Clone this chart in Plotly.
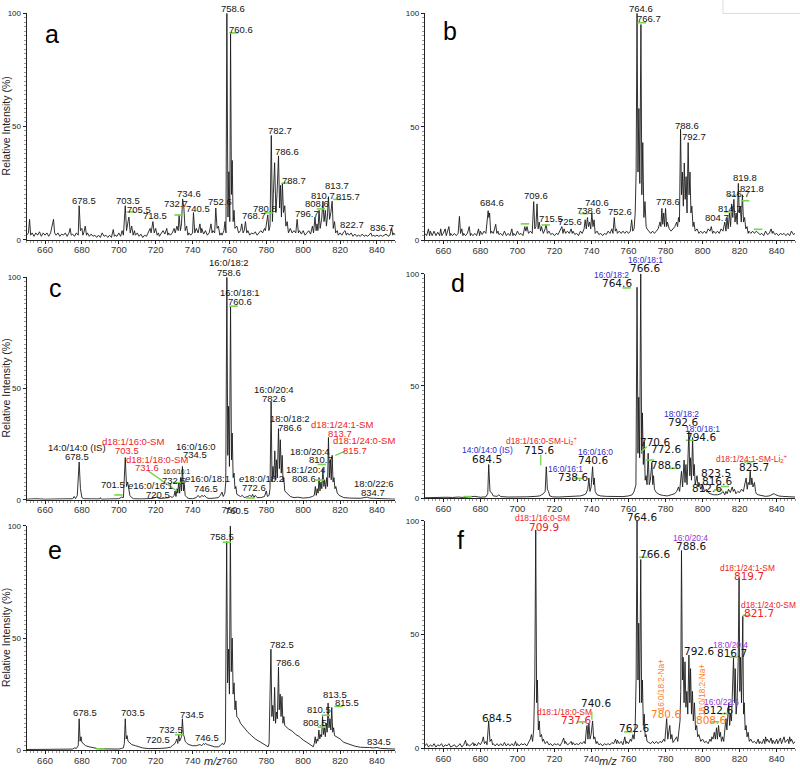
import plotly.graph_objects as go

# ---------------- spectra: (m/z, relative intensity %) profile vertices ----------------
a_spec = [(650,2),(651,3),(651.6,9),(652.2,2),(653,3),(654,1.5),(655,3),(656,2),(657,3.5),(658,1.5),(659,3),(660,2),(661,3),(662,1.5),(663,3),(664,6),(664.6,9),(665.2,3),(666,2),(667,3),(668,1.5),(669,2.5),(670,2),(671,3),(672,1.5),(673,3),(673.6,5),(674.2,2),(675,2.5),(676,1.5),(677,3),(678,2),(678.5,15),(679.2,4),(680,5),(680.5,2),(681,3),(681.8,6),(682.5,2),(683,3),(684,1.5),(685,2.5),(686,1.5),(687,2),(688,1),(689,2),(690,1),(691,3),(692,1.5),(693,2),(694,1),(695,2),(696,1),(697,4.5),(697.6,1.5),(698,2),(699,1.5),(700,3),(701,1.5),(701.8,4),(702.5,2),(703.5,15),(704.2,4),(705,8),(705.5,10),(706.2,3),(707,6),(707.8,2),(708.5,4),(709,2),(710,3),(711,1.5),(712,2.5),(713,1),(714,2),(715,1.5),(716,3),(717,5),(717.5,3),(718.5,8),(719.2,3),(720,5),(720.8,2),(721.5,3),(722,1.5),(723,3),(724,4),(725,2.5),(726,5),(726.6,2),(727,3),(728,2),(729,3),(730,5),(730.6,3),(731.5,6),(732.2,4),(732.7,11),(733.4,4),(734,7),(734.6,18),(735.3,14),(736,4),(736.8,6),(737.5,2),(738,3),(739,2),(740,3),(740.5,12),(741.2,3),(742,5),(743,3),(744,7),(744.6,3),(745,5),(746,2.5),(747,4),(748,2),(749,3),(750,7),(750.6,3),(751,4),(752,3),(752.6,14),(753.3,5),(754,6),(754.8,2),(755.5,3),(756,2),(757,4),(757.6,8),(758.1,3),(758.6,100),(759.2,10),(759.7,30),(760.2,8),(760.6,91),(761.1,20),(761.5,35),(762,8),(762.5,13),(763,5),(764,6),(765,3),(766,4),(766.7,7),(767.4,3),(768,4),(768.7,8),(769.4,3),(770,4),(771,2),(772,3),(773,2.5),(774,3.5),(775,2),(776,3),(777,4),(778,3),(779,5),(779.5,4),(780.3,8),(780.8,11),(781.4,4),(782,6),(782.7,46),(783.3,8),(783.8,20),(784.5,34),(785.2,12),(785.8,20),(786.6,37),(787.2,14),(787.7,24),(788.2,10),(788.7,25),(789.3,12),(790,15),(790.6,6),(791.3,8),(792,3),(793,5),(794,3),(795,4),(796,3),(796.7,9),(797.4,3),(798,4),(799,2.5),(800,4),(801,2),(802,3),(803,4),(804,2.5),(805,6),(805.6,3),(806.4,10),(807,4),(807.5,7),(808,4),(808.6,13),(809.2,5),(810,9),(810.7,17),(811.3,8),(812,13),(812.6,6),(813.1,10),(813.7,19),(814.3,9),(815,12),(815.7,17),(816.3,5),(817,8),(817.6,3),(818.5,4),(819,2),(820,3),(821,2),(822,3.5),(822.7,4),(823.4,2),(824,3),(825,2),(826,3),(827,1.5),(828,2.5),(829,1.5),(830,2),(831,1.5),(832,2.5),(833,1.5),(834,2),(835,1.5),(836,2.5),(836.7,3),(837.4,1.5),(838,2),(839,1.5),(840,2),(841,1.5),(842,2),(843,1.5),(844,2),(845,2.5),(846,1.5),(847,2),(848,5),(848.6,2),(849,3),(850,2)]

b_spec = [(650,3),(651,2),(652,5),(652.6,2),(653,4),(654,2),(655,4),(656,2),(657,3.5),(658,2),(658.6,5),(659.2,2),(660,3),(661,5),(661.6,2),(662,3),(663,6),(663.6,2),(664,3),(665,2),(666,3),(667,2),(668,3),(668.7,10.5),(669.3,3),(670,5),(670.6,2),(671,3),(672,2),(673,3),(674,6),(674.6,2),(675,3),(676,2),(677,3),(678,2),(679,5),(679.6,2),(680,4),(681,2.5),(682,4),(683,3),(684.2,13),(684.6,10),(685,12),(685.6,3),(686,4),(687,3),(688.3,7),(688.9,3),(689.5,4),(690,2.5),(691,3),(692,2),(693,4),(694,2),(695,3),(696,2),(697,5),(697.6,2),(698,3),(699,2),(700,4),(701,2.5),(702,3),(703,2),(704,6),(704.6,4),(705.2,6),(706,3),(707,4),(708,3),(708.8,17),(709.4,5),(710,6),(710.6,16),(711.2,5),(711.8,8),(712.5,4),(713,6),(714,3),(715,5),(715.5,7),(716.2,3),(717,4),(718,2.5),(719,3),(720,2),(721,3),(722,2.5),(723,4),(724,6),(724.6,3),(725.2,5),(726,3),(727,4),(728,3),(729,5),(729.6,3),(730,4),(731,2.5),(732,3),(733,2),(734,4),(735,3),(736,5),(736.6,9),(737.2,5),(737.8,10),(738.4,6),(739,8),(739.6,5),(740.2,12),(740.8,6),(741.4,9),(742,3),(743,4),(744,2.5),(745,3),(746,2),(747,3),(748,2.5),(749,4),(750,3),(751,5),(751.6,3),(752.3,10),(752.9,4),(753.5,5),(754,3),(755,4),(756,3),(757,4),(758,3),(759,4),(760,3),(761,4),(761.7,9),(762.3,4),(763,5),(763.6,12),(764.1,30),(764.6,100),(765.1,30),(765.6,58),(766.1,25),(766.7,95),(767.2,20),(767.7,43),(768.3,10),(768.9,17),(769.5,6),(770,5),(771,4),(772,3),(773,4),(774,3),(775,4),(776,5),(777,8),(777.5,6),(778,14),(778.5,7),(779,12),(779.5,6),(780,14),(780.6,6),(781,8),(782,5),(783,4),(784,5),(785,6),(786,8),(786.5,6),(787,10),(787.5,8),(788.1,49),(788.6,20),(789.1,30),(789.6,15),(790.1,34),(790.6,18),(791.1,28),(791.6,12),(792.2,43),(792.7,20),(793.2,30),(793.7,12),(794.2,15),(794.8,6),(795.3,8),(796,4),(797,5),(798,3),(799,4),(800,3),(801,4),(802,3),(803,5),(804,4),(804.7,6),(805.4,3),(806,4),(807,3),(808,4),(809,3),(810,5),(811,4),(812,8),(812.6,4),(813.2,10),(813.8,5),(814.5,12),(815.1,6),(815.7,16),(816.3,10),(816.9,18),(817.5,8),(818.1,12),(818.7,7),(819.3,25),(819.8,12),(820.3,15),(820.9,8),(821.5,20),(822.1,8),(822.7,10),(823.3,5),(824,6),(824.6,3),(825,4),(826,3),(827,4),(828,3),(829,4),(830,3),(831,2.5),(832,3),(833,2),(834,4),(835,2.5),(836,3),(837,5),(837.6,3),(838,4),(839,2.5),(840,3),(841,2),(842,3),(843,2.5),(844,3),(845,2),(846,3),(847,2),(848,4),(849,2.5),(850,3)]

c_spec = [(650,0.3),(655,0.5),(660,0.3),(665,0.4),(670,0.3),(675,0.5),(675.8,1.5),(676.5,0.5),(677.5,2),(678.5,17),(679.2,5),(680,1),(681,0.5),(685,0.3),(689.5,0.4),(690,1),(690.5,0.3),(695,0.4),(700,0.5),(701.5,1.2),(702.5,1),(703.5,19),(704.2,6),(704.8,8),(705.5,3),(706,2),(707,1),(708,0.5),(712,0.4),(715,0.5),(718,0.6),(720.5,1.2),(722,0.6),(725,0.8),(727,1),(728,1.5),(729,1),(730,2),(730.5,4),(731,1.5),(731.6,5),(732,3),(732.5,8),(733,3),(733.5,10),(734,4),(734.5,15),(735.1,4),(735.5,7),(736,2),(737,1),(738,0.6),(740,0.5),(742,1),(743,2),(744,1),(745,2),(746,1.5),(746.5,2),(747.5,1),(749,0.6),(752,0.8),(754,1),(755,2),(756,3.5),(756.6,1.5),(757.5,3),(758,8),(758.6,100),(759.1,20),(759.5,42),(760,15),(760.6,87),(761.1,18),(761.5,30),(762,10),(762.5,12),(763,5),(763.5,6),(764,2.5),(765,2),(766,1.5),(767,2),(768,1),(770,1.5),(771,2),(772,1.5),(772.6,2.5),(773.2,1),(774,2),(775,1),(777,1),(779,1.5),(780,4),(780.6,1.5),(781.5,2),(782,5),(782.6,44),(783.1,8),(783.6,15),(784.1,10),(784.6,22),(785.1,9),(785.5,18),(786,10),(786.6,32),(787.1,14),(787.6,27),(788.1,12),(788.6,20),(789.1,8),(789.5,10),(790,4),(791,3),(792,2),(793,1.5),(795,1),(797,1.2),(800,0.8),(803,1),(805,1.5),(806,2),(806.6,6),(807.1,2),(807.6,5),(808.1,3),(808.6,10),(809.1,4),(809.6,8),(810.1,5),(810.7,14),(811.2,6),(811.6,9),(812.2,5),(812.7,10),(813.2,6),(813.7,28),(814.2,10),(814.7,18),(815.2,9),(815.7,20),(816.2,8),(816.7,10),(817.2,5),(817.7,6),(818.5,3),(819.5,2),(820.5,1.5),(822,1),(825,0.8),(828,0.8),(831,0.7),(834.7,1.2),(836,0.8),(838,0.7),(840,0.6),(843,0.5),(846,0.4),(850,0.3)]

d_spec = [(650,0.2),(655,0.4),(658,0.2),(662,0.4),(665,0.3),(668,0.5),(671,0.3),(674,0.5),(677,0.8),(680,0.4),(683,0.6),(684,2),(684.5,15),(685.2,3),(686,2.5),(687,1),(689,0.8),(690,1.5),(691,0.7),(695,0.5),(700,0.4),(705,0.6),(710,0.8),(712,1),(713,1.5),(714,2),(715,3),(715.6,14),(716.2,4),(716.8,3),(717.5,1),(719,0.6),(722,0.5),(725,0.7),(728,0.6),(731,0.8),(734,1),(736,1.5),(737,2),(738,4),(738.6,9),(739.2,3),(739.8,5),(740.6,14),(741.1,6),(741.5,9),(742,3),(743,1.5),(745,1),(748,0.8),(751,0.7),(754,0.8),(757,0.7),(760,1),(762,1.5),(763,3),(764,6),(764.6,94),(765.1,20),(765.5,45),(766,18),(766.6,100),(767.1,20),(767.5,38),(768,15),(768.5,25),(769,8),(769.5,10),(770,6),(770.6,20),(771.2,6),(771.8,8),(772.6,16),(773.1,6),(773.5,10),(774,4),(775,2.5),(776,2),(777,1.5),(779,1.2),(781,1),(783,1.5),(785,2),(786,3),(787,5),(787.6,3),(788.6,12),(789.2,5),(790,17),(790.5,7),(791,15),(791.6,6),(792.6,30),(793.1,10),(793.5,18),(794,8),(794.6,27),(795.1,10),(795.5,15),(796,6),(796.6,8),(797,10),(797.6,5),(798,7),(799,4),(800,6),(801,3),(802,4),(803,2.5),(804,2),(806,1.5),(808,1.5),(810,2),(811,3),(812,1.5),(812.6,3),(813.3,2),(814,4),(815,2.5),(816,5),(816.6,3),(817.2,4),(818,2),(819,3),(820,2.5),(821,4),(822,3),(823.5,9),(824.1,4),(824.6,7),(825.2,6),(825.7,12),(826.2,6),(826.6,9),(827.2,5),(828,7),(828.6,3),(829,2),(830,1.5),(832,1),(834,0.8),(836,1),(837.5,1.5),(838.5,2),(839.5,1.5),(841,1),(843,0.8),(846,0.6),(850,0.5)]

e_spec = [(650,0.3),(655,0.3),(660,0.3),(665,0.3),(670,0.4),(675,0.5),(676,1),(677,0.8),(678,2),(678.5,14),(679,4),(679.5,6),(680,3.5),(681,2.5),(682,2),(684,1.5),(686,1),(688,0.8),(690,0.6),(693,0.5),(697,0.4),(700,0.5),(701.5,0.8),(702.5,1),(703,3),(703.5,14),(704,5),(704.5,6.5),(705,4),(706,3),(707,2.5),(709,2),(711,1.5),(713,1),(716,0.7),(720.5,0.6),(723,0.8),(726,1),(728,1.3),(729,2),(730,2.5),(730.5,3),(731,4),(731.5,5),(732,3),(732.5,7),(733,4),(733.5,5),(734,6),(734.5,14),(735,7),(735.5,6),(736,4),(737,3),(738,2.5),(740,2),(742,2),(744,2.5),(745,2),(746,3),(746.5,2.5),(747,3),(748,2.5),(750,2),(752,1.5),(754,1.5),(755,2),(756,3),(757,2.5),(757.8,4),(758.5,93),(759,30),(759.5,45),(760,25),(760.5,100),(761,35),(761.5,50),(762,25),(762.5,30),(763,18),(763.5,22),(764,15),(765,14),(766,12),(767,11),(768,9.5),(769,8.5),(770,8),(772,6.5),(774,5),(776,4),(778,3),(780,2),(781,1.5),(781.5,3),(782.5,45),(783,15),(783.5,20),(784,13),(784.5,28),(785,12),(785.5,17),(786,14),(786.6,37),(787,18),(787.5,25),(788,15),(788.5,24),(789,12),(789.5,15),(790,11),(791,10),(792,9.5),(794,8.5),(796,7),(798,6),(800,4.5),(802,3.5),(804,2.5),(805.5,1.5),(806,3),(806.5,6),(807,3),(807.5,5),(808,4),(808.5,9),(809,5),(809.5,7),(810,6),(810.5,15),(811,7),(811.5,10),(812,6),(812.5,12),(813,8),(813.5,21),(814,10),(814.5,14),(815,9),(815.5,19),(816,8),(816.5,10),(817,6.5),(818,6),(820,5),(822,3.5),(825,2.5),(828,1.8),(831,1.3),(834,1.2),(834.5,1.5),(836,1.2),(838,1),(840,1.2),(842,0.8),(845,0.6),(850,0.5)]

f_spec = [(650,1),(651,2),(652,0.5),(653,1.5),(654,0.8),(655,2),(656,0.5),(657,1.5),(658,1),(659,2),(660,0.5),(661,1.5),(662,1),(663,2),(664,0.5),(665,1),(666,1.5),(667,0.5),(668,1),(669,2),(670,0.5),(671,1.5),(672,3.5),(672.6,1),(673,2),(674,1),(675,1.5),(676,2.5),(676.6,1),(677,2),(678,1),(679,2.5),(680,1.5),(681,3),(681.6,5),(682.2,2),(683,3),(683.6,1.5),(684.5,12),(685.2,3),(686,4),(686.6,1.5),(687,2),(688,1),(689,2),(690,1),(691,2),(692,1),(693,2.5),(694,1),(695,2),(696,1),(697,2),(698,1),(699,3),(699.6,1),(700,2),(701,1),(702,2),(703,1.5),(704,2),(705,1),(706,2.5),(707,4),(707.6,6),(708.2,3),(708.8,8),(709.4,30),(709.9,96),(710.4,20),(710.8,30),(711.3,8),(711.8,12),(712.3,5),(713,6),(713.6,3),(714,4),(715,2),(716,3),(717,1.5),(718,2),(719,1),(720,2),(721,1.5),(722,2),(723,1),(724,2.5),(725,4.5),(725.6,2),(726,3),(727,1.5),(728,2),(729,3),(729.6,1.5),(730,2.5),(731,1.5),(732,2),(733,1.5),(734,2.5),(735,2),(736,3),(736.6,2),(737.2,8),(737.6,10),(738.1,4),(738.6,11),(739.2,4),(739.8,6),(740.6,12),(741.2,4),(741.8,5),(742.5,2),(743,3),(744,1.5),(745,2),(746,1),(747,2),(748,1.5),(749,2),(750,1.5),(751,2.5),(752,2),(753,4),(753.6,2),(754,3.5),(755,2),(756,3),(757,1.5),(758,5),(758.6,2),(759,3),(760,2),(761,4),(761.6,3),(762.4,6),(763,4),(763.6,10),(764.1,30),(764.6,100),(765.1,30),(765.5,55),(766,20),(766.6,83),(767.1,20),(767.5,30),(768,10),(768.5,15),(769,5),(769.5,6),(770,3),(771,2.5),(772,2),(773,3),(774,2),(775,3),(776,2),(777,3),(778,2.5),(779,4),(779.6,3),(780.3,10),(780.6,13),(781.2,4),(781.8,8),(782.3,10),(782.8,4),(783.4,6),(784,2.5),(785,4),(786,5),(786.6,3),(787.2,8),(787.8,12),(788.2,25),(788.6,87),(789.1,30),(789.5,40),(790,20),(790.5,38),(791,18),(791.5,25),(792,15),(792.6,41),(793.1,20),(793.5,35),(794,15),(794.5,25),(795,12),(795.6,20),(796.2,8),(796.8,10),(797.4,5),(798,6),(799,3),(800,4),(801,2.5),(802,3),(803,2),(804,4),(804.6,3),(805,5),(805.6,4),(806.3,7),(806.9,4),(807.5,9),(808,4),(808.6,10),(809.2,5),(809.6,7),(810.2,3),(810.8,5),(811.4,3),(812,7),(812.6,13),(813.1,8),(813.6,15),(814.1,20),(814.6,10),(815.1,15),(815.6,12),(816.2,25),(816.7,40),(817.2,20),(817.6,35),(818.1,15),(818.6,20),(819.2,38),(819.7,75),(820.1,25),(820.5,40),(821,20),(821.7,58),(822.1,15),(822.5,20),(823,8),(823.5,10),(824,5),(824.6,7),(825.2,3),(826,4),(827,2.5),(828,3),(829,2),(830,4),(830.6,2),(831,3),(832,2),(833,4),(833.6,2),(834,5),(834.6,3),(835,4),(836,2.5),(837,4.5),(837.6,2),(838,3.5),(839,2),(840,4),(840.6,2),(841,3),(842,4.5),(842.6,2),(843,3),(844,5),(844.6,2.5),(845,3),(846,4),(846.6,2),(847,5),(847.6,3),(848,4),(849,2),(850,3)]

# ---------------- peak annotations: (m/z, y%, text, colour key, size key) ----------------
a_labels = [(762,102,"758.6","k","v"),(766.5,92.8,"760.6","k","v"),(787.5,48.3,"782.7","k","v"),(791.1,38.8,"786.6","k","v"),(795,26.2,"788.7","k","v"),(818.3,23.8,"813.7","k","v"),(810.9,19.7,"810.7","k","v"),(824.3,19,"815.7","k","v"),(807.4,15.9,"808.6","k","v"),(802,11.7,"796.7","k","v"),(779.4,13.9,"780.8","k","v"),(773.1,10.6,"768.7","k","v"),(755,16.7,"752.6","k","v"),(743,13.9,"740.5","k","v"),(738.3,20.4,"734.6","k","v"),(730.9,16.2,"732.7","k","v"),(719.7,10.6,"718.5","k","v"),(710.7,13.5,"705.5","k","v"),(705,17.5,"703.5","k","v"),(681,17.4,"678.5","k","v"),(826.4,6.5,"822.7","k","v"),(842.7,5.5,"836.7","k","v")]

b_labels = [(766.6,102,"764.6","k","v"),(771,97.5,"766.7","k","v"),(791.4,50.4,"788.6","k","v"),(795.4,45.7,"792.7","k","v"),(822.9,27.5,"819.8","k","v"),(826.5,22.9,"821.8","k","v"),(818.9,20.7,"816.7","k","v"),(814.8,13.9,"814.7","k","v"),(807.6,9.9,"804.7","k","v"),(781.5,17.1,"778.6","k","v"),(755.4,12.5,"752.6","k","v"),(742.8,16.7,"740.6","k","v"),(738.5,13,"738.6","k","v"),(728.4,8.4,"725.6","k","v"),(718.1,9.6,"715.5","k","v"),(709.9,19.7,"709.6","k","v"),(686.5,16.4,"684.6","k","v")]

c_labels = [(759.5,106.4,"16:0/18:2","k","v"),(759.5,102.2,"758.6","k","v"),(765.8,93.3,"16:0/18:1","k","v"),(765.8,89,"760.6","k","v"),(783.9,49.6,"16:0/20:4","k","v"),(783.9,45.4,"782.6","k","v"),(792.6,36.5,"18:0/18:2","k","v"),(792.6,32.4,"786.6","k","v"),(821.2,33.9,"d18:1/24:1-SM","r","v"),(819.7,29.8,"813.7","r","v"),(833.1,26.5,"d18:1/24:0-SM","r","v"),(828.2,22.3,"815.7","r","v"),(803.5,21.6,"18:0/20:4","k","v"),(809.6,18.2,"810.7","k","v"),(801.5,13.8,"18:1/20:4","k","v"),(800.6,9.7,"808.6","k","v"),(838.2,7.4,"18:0/22:6","k","v"),(837.8,3.3,"834.7","k","v"),(677.5,23.5,"14:0/14:0 (IS)","k","v"),(677.5,19.3,"678.5","k","v"),(707.9,26,"d18:1/16:0-SM","r","v"),(704.3,22.3,"703.5","r","v"),(720.6,18.3,"d18:1/18:0-SM","r","v"),(715.2,14.4,"731.6","r","v"),(741.9,24.1,"16:0/16:0","k","v"),(741.4,20.4,"734.5","k","v"),(731.5,12.9,"16:0/16:1","k","t"),(730,8.6,"732.5","k","v"),(748.1,9.7,"<i>e</i>16:0/18:1","k","v"),(747.2,5.2,"746.5","k","v"),(717,6.4,"<i>e</i>16:0/16:1","k","v"),(721.5,2.5,"720.5","k","v"),(696.7,6.7,"701.5","k","v"),(777.6,9.7,"<i>e</i>18:0/18:2","k","v"),(773.4,5.5,"772.6","k","v")]

d_labels = [(769.4,105.9,"16:0/18:1","b","n"),(768.9,102.6,"766.6","k","w"),(750.7,99.6,"16:0/18:2","b","n"),(753.6,96,"764.6","k","w"),(788.7,37.6,"18:0/18:2","b","n"),(789.6,33.8,"792.6","k","w"),(800,30.7,"18:0/18:1","b","n"),(799.1,27.2,"794.6","k","w"),(774.1,25.1,"770.6","k","w"),(780.2,21.8,"772.6","k","w"),(780.2,14.7,"788.6","k","w"),(826.6,17.9,"d18:1/24:1-SM-Li<sub>2</sub><sup>+</sup>","r","n"),(827.7,14,"825.7","k","w"),(807.2,11.1,"823.5","k","w"),(807.6,7.8,"816.6","k","w"),(802.5,4.7,"812.6","k","w"),(683.8,21.4,"14:0/14:0 (IS)","b","n"),(683.4,17.4,"684.5","k","w"),(713.5,25.6,"d18:1/16:0-SM-Li<sub>2</sub><sup>+</sup>","r","n"),(711.8,21.4,"715.6","k","w"),(742.3,20.4,"16:0/16:0","b","n"),(740.6,17,"740.6","k","w"),(725.7,13,"16:0/16:1","b","n"),(730.2,9.6,"738.6","k","w")]

e_labels = [(764.2,106.7,"760.5","k","v"),(755.9,95.3,"758.5","k","v"),(788.4,46.9,"782.5","k","v"),(792,38.9,"786.6","k","v"),(817.4,24.9,"813.5","k","v"),(823.7,21.3,"815.5","k","v"),(808.5,18.3,"810.5","k","v"),(806.5,12.5,"808.5","k","v"),(840.9,3.7,"834.5","k","v"),(747.7,5.6,"746.5","k","v"),(739.8,16.1,"734.5","k","v"),(728.2,9.2,"732.5","k","v"),(721.5,4.8,"720.5","k","v"),(707.6,16.7,"703.5","k","v"),(681.9,16.7,"678.5","k","v")]

f_labels = [(713.3,101.4,"d18:1/16:0-SM","r","n"),(714.2,97.5,"709.9","r","w"),(767.1,101.9,"764.6","k","w"),(774.5,85.5,"766.6","k","w"),(793.2,92.3,"16:0/20:4","p","n"),(793.5,89.1,"788.6","k","w"),(824.1,79.3,"d18:1/24:1-SM","r","n"),(825,75.8,"819.7","r","w"),(835.6,63,"d18:1/24:0-SM","r","n"),(830.4,59.4,"821.7","r","w"),(798,42.8,"792.6","k","w"),(814.8,45.4,"18:0/20:4","p","n"),(815.7,42,"816.7","k","w"),(810.3,20.3,"16:0/22:6","p","n"),(808.5,16.7,"812.6","k","w"),(804.3,12.6,"808.6","o","w"),(780,15.2,"780.6","o","w"),(742.4,19.9,"740.6","k","w"),(725.5,15.9,"d18:1/18:0-SM","r","n"),(731.6,12.3,"737.6","r","w"),(763.1,8.7,"762.6","k","w"),(689,13.5,"684.5","k","w")]
f_vlabels = [(777.9,27.5,"16:0/18:2-Na+"),(800,25.4,"18:0/18:2-Na+")]

# small green label markers (m/z, y%)
a_marks = [(762.2,91.3),(706.5,12.3),(732.4,10.9),(781.2,11.9),(790.6,25),(809.6,13.6),(818.6,17.8)]
b_marks = [(767.1,95.8),(715.3,6.7),(736.1,11.7),(816,19.7),(813.9,12.5),(822.9,17.4),(830,4.8),(704.1,7.2)]
c_marks = [(762.2,87),(699.8,2.2),(731.5,7.7),(810.1,15.9),(809.2,8.9),(771.5,0.8)]
d_marks = [(759,93.7),(732.9,8.8),(771.6,17),(784.2,13.3),(793.2,25.8),(824.7,16.2),(812.1,5.2),(808.5,3.7),(673,0.7)]
e_marks = [(758.6,92.7),(732.7,6.9),(810.1,10.3),(819.2,19.5),(690,0.6),(812.3,15.6)]
f_marks = [(768,84),(734.7,11.6),(759.9,7.2),(806.7,11.6),(811.2,15.2),(816.6,40.1),(823.8,58.4)]

# green connector lines: (panel index, m/z0, y0, m/z1, y1)
connectors = [(3,731.5,4,716.1,12.9),(3,817.4,20,822.8,21.9),(4,712.6,14.7,712.6,19.2),(4,766.5,20.5,770,23),(6,740.2,12.5,740.2,16)]

SANS = "Liberation Sans, Arial, sans-serif"
COLORS = {"k": "#141414", "r": "#f02222", "b": "#2a2ad2", "p": "#9a32d6", "o": "#ff7d1a"}
FONTS = {"v": (SANS, 9.5), "t": (SANS, 6.5), "n": (SANS, 8.4), "w": ("DejaVu Sans", 10.5)}

W, H = 800, 771
# panel pixel boxes: x0, x1 (m/z 650..850), y_top (100%), y_bottom (0%)
panels = [
    ("a", a_spec, a_labels, a_marks, (26.6, 395.4), (9.3, 238.5), (663.8, 91), True),
    ("b", b_spec, b_labels, b_marks, (424.8, 795.2), (9.3, 239), (663.6, 92), False),
    ("c", c_spec, c_labels, c_marks, (26.6, 395.4), (276.5, 501.7), (665.4, 95.4), True),
    ("d", d_spec, d_labels, d_marks, (424.8, 795.2), (273, 500), (667.9, 96), False),
    ("e", e_spec, e_labels, e_marks, (26.6, 395.4), (528, 755), (665.4, 89.4), True),
    ("f", f_spec, f_labels, f_marks, (424.8, 795.2), (523, 753), (669.5, 91.7), False),
]

fig = go.Figure()
annotations = []
shapes = []
layout = {}
for i, (name, spec, labels, marks, xpx, ypx, letter_pos, ytitle) in enumerate(panels, start=1):
    sfx = "" if i == 1 else str(i)
    xr, yr = "x" + sfx, "y" + sfx
    pxpp = (ypx[1] - ypx[0]) / 100.0
    mz = [p[0] for p in spec]
    inten = [p[1] for p in spec]
    fig.add_trace(go.Scatter(x=mz, y=inten, mode="lines", xaxis=xr, yaxis=yr,
                             line=dict(color="#1c1c1c", width=0.9), hoverinfo="skip", showlegend=False))
    fig.add_trace(go.Scatter(x=[m[0] for m in marks], y=[m[1] for m in marks], mode="markers",
                             xaxis=xr, yaxis=yr, cliponaxis=False,
                             marker=dict(symbol="line-ew", size=6, line=dict(color="#74d64a", width=1.6)),
                             hoverinfo="skip", showlegend=False))
    layout["xaxis" + sfx] = dict(domain=[xpx[0] / W, xpx[1] / W], range=[650, 850], anchor=yr,
                                 showline=True, linecolor="#222", linewidth=1, ticks="outside", ticklen=3,
                                 tickcolor="#222", tick0=660, dtick=20, showgrid=False, zeroline=False,
                                 ticklabelstandoff=-2,
                                 tickfont=dict(family=SANS, size=9.5, color="#333"),
                                 minor=dict(ticks="outside", ticklen=2, dtick=2, tickcolor="#555", tickwidth=0.6))
    layout["yaxis" + sfx] = dict(domain=[1 - ypx[1] / H, 1 - ypx[0] / H], range=[0, 100], anchor=xr,
                                 showline=True, linecolor="#222", linewidth=1, ticks="outside", ticklen=3,
                                 tickcolor="#222", tick0=0, dtick=50, showgrid=False, zeroline=False,
                                 tickfont=dict(family=SANS, size=8, color="#222"),
                                 minor=dict(ticks="outside", ticklen=2, dtick=2, tickcolor="#555", tickwidth=0.6))
    for (x, y, t, ck, fk) in labels:
        fam, size = FONTS[fk]
        ya = min(y, 99.9)
        annotations.append(dict(x=x, y=ya, yshift=(y - ya) * pxpp, xref=xr, yref=yr, text=t, showarrow=False,
                                font=dict(family=fam, size=size, color=COLORS[ck])))
    annotations.append(dict(x=letter_pos[0], y=letter_pos[1], xref=xr, yref=yr, text=name, showarrow=False,
                            font=dict(family=SANS, size=25, color="#000")))
    if ytitle:
        annotations.append(dict(x=6 / W, y=1 - (ypx[0] + ypx[1]) / 2 / H, xref="paper", yref="paper",
                                xanchor="center", yanchor="middle",
                                text="Relative Intensity (%)", textangle=-90, showarrow=False,
                                font=dict(family=SANS, size=10.5, color="#222")))

# rotated sodium-adduct labels in f
for (x, y, t) in f_vlabels:
    annotations.append(dict(x=x, y=y, xref="x6", yref="y6", text=t, textangle=-90, showarrow=False,
                            font=dict(family=SANS, size=8.2, color=COLORS["o"])))

# green connector lines
for (pi, x0, y0, x1, y1) in connectors:
    sfx = "" if pi == 1 else str(pi)
    shapes.append(dict(type="line", xref="x" + sfx, yref="y" + sfx, x0=x0, y0=y0, x1=x1, y1=y1,
                       line=dict(color="#74d64a", width=1.3)))

# m/z axis titles under the bottom row
for xp in (213, 608):
    annotations.append(dict(x=xp / W, y=1 - 766 / H, xref="paper", yref="paper", text="<i>m/z</i>",
                            xanchor="center", yanchor="middle",
                            showarrow=False, font=dict(family=SANS, size=11, color="#222")))

shapes.append(dict(type="rect", xref="paper", yref="paper", x0=723 / W, x1=1.01, y0=1 - 9.5 / H,
                   y1=1.01, line=dict(color="#dcdcdc", width=1), fillcolor="rgba(0,0,0,0)"))

fig.update_layout(width=W, height=H, margin=dict(l=0, r=0, t=0, b=0), paper_bgcolor="white",
                  plot_bgcolor="white", annotations=annotations, showlegend=False, shapes=shapes,
                  hovermode=False, **layout)
fig.write_html("out.html", config={"displayModeBar": False, "staticPlot": True},
               post_script="document.body.style.margin='0';document.body.style.padding='0';"
                           "document.documentElement.style.overflow='hidden';")
